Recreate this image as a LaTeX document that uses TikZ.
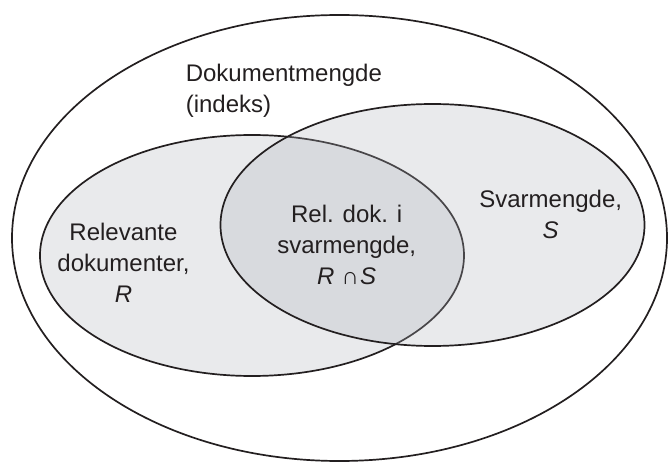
\documentclass[tikz,border=0pt]{standalone}
\usepackage{fontspec}
\setmainfont{Liberation Sans}
\definecolor{ink}{RGB}{35,31,32}
\definecolor{rfill}{RGB}{233,234,236}
\definecolor{sfill}{RGB}{173,177,185}
\begin{document}
\begin{tikzpicture}[x=1bp,y=-1bp,
  setline/.style={draw=ink, line width=1.7bp},
  lbl/.style={text=ink, font=\fontsize{24bp}{31bp}\selectfont, align=center, inner sep=0pt}]
\useasboundingbox (0,0) rectangle (668,462);
% document collection
\draw[setline] (339.5,238) ellipse [x radius=327.5, y radius=223];
% relevant set R
\fill[rfill] (252,255.5) ellipse [x radius=212, y radius=120.5];
\draw[setline] (252,255.5) ellipse [x radius=212, y radius=120.5];
% answer set S (translucent fill darkens the intersection)
\fill[sfill, fill opacity=0.27] (432.5,225) ellipse [x radius=212, y radius=121];
\draw[setline] (432.5,225) ellipse [x radius=212, y radius=121];
% labels
\node[lbl, align=left, anchor=west] (doc) at (185.6,91) {Dokumentmengde\\(indeks)};
\node[lbl] (rel) at (123.5,262.9) {Relevante\\dokumenter,\\\textit{R}};
\node[lbl] (inter) at (346.7,245.3) {Rel. dok. i\\svarmengde,\\\textit{R}\hspace{0.3em}∩\hspace{0.05em}\textit{S}};
\node[lbl] (ans) at (550.7,214.4) {Svarmengde,\\\textit{S}};
\end{tikzpicture}
\end{document}
